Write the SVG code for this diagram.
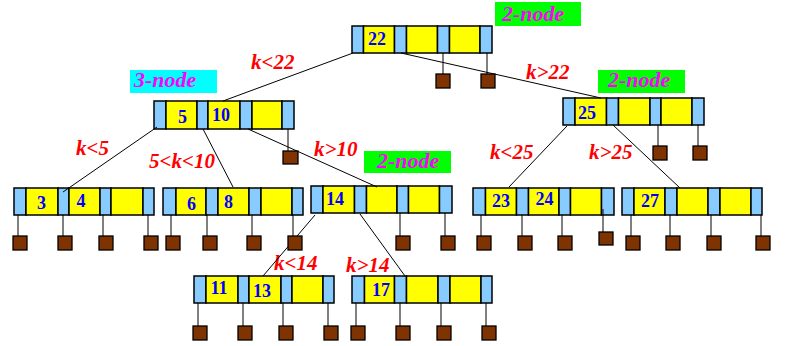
<svg xmlns="http://www.w3.org/2000/svg" width="788" height="346" viewBox="0 0 788 346">
<style>
.p{fill:#88CCFF;stroke:#000;stroke-width:1.5}
.k{fill:#FFFF00;stroke:#000;stroke-width:1.5}
.nul{fill:#7F3300;stroke:#000;stroke-width:1.3}
.key{font-family:"Liberation Serif","Times New Roman",serif;font-weight:bold;font-size:18px;fill:#0000FF}
.lab{font-family:"Liberation Serif","Times New Roman",serif;font-weight:bold;font-style:italic;font-size:21px;fill:#FF0000}
.tag{font-family:"Liberation Serif","Times New Roman",serif;font-weight:bold;font-style:italic;font-size:22px;fill:#FF00FF}
.edge{stroke:#000;stroke-width:1;fill:none}
</style>
<rect width="788" height="346" fill="#fff"/>

<g id="tags">
<rect x="495" y="2" width="86" height="24" fill="#00FF00"/><text class="tag" x="502" y="21">2-node</text>
<rect x="130" y="70" width="87" height="23" fill="#00FFFF"/><text class="tag" x="134" y="87">3-node</text>
<rect x="598" y="70" width="87" height="23" fill="#00FF00"/><text class="tag" x="608" y="87">2-node</text>
<rect x="364" y="151" width="87" height="22" fill="#00FF00"/><text class="tag" x="377" y="168">2-node</text>
</g>

<g id="labels">
<text class="lab" x="251" y="69">k&lt;22</text>
<text class="lab" x="526" y="79">k&gt;22</text>
<text class="lab" x="76" y="155">k&lt;5</text>
<text class="lab" x="149" y="168">5&lt;k&lt;10</text>
<text class="lab" x="314" y="156">k&gt;10</text>
<text class="lab" x="490" y="159">k&lt;25</text>
<text class="lab" x="589" y="159">k&gt;25</text>
<text class="lab" x="274" y="270">k&lt;14</text>
<text class="lab" x="346" y="272">k&gt;14</text>
</g>

<g id="node-22">
<rect class="p" x="352" y="26" width="11.5" height="27"/><rect class="k" x="363.5" y="26" width="31" height="27"/>
<rect class="p" x="394.5" y="26" width="12" height="27"/><rect class="k" x="406.5" y="26" width="31" height="27"/>
<rect class="p" x="437.5" y="26" width="12" height="27"/><rect class="k" x="449.5" y="26" width="30.5" height="27"/>
<rect class="p" x="480" y="26" width="12" height="27"/>
<text class="key" x="368" y="45">22</text>
</g>

<g id="node-5-10">
<rect class="p" x="154" y="101" width="12" height="28"/><rect class="k" x="166" y="101" width="31" height="28"/>
<rect class="p" x="197" y="101" width="11" height="28"/><rect class="k" x="208" y="101" width="32" height="28"/>
<rect class="p" x="240" y="101" width="12" height="28"/><rect class="k" x="252" y="101" width="30" height="28"/>
<rect class="p" x="282" y="101" width="12" height="28"/>
<text class="key" x="178" y="123">5</text><text class="key" x="212" y="121">10</text>
</g>

<g id="node-25">
<rect class="p" x="563" y="98" width="12" height="27"/><rect class="k" x="575" y="98" width="31.5" height="27"/>
<rect class="p" x="606.5" y="98" width="12" height="27"/><rect class="k" x="618.5" y="98" width="31.5" height="27"/>
<rect class="p" x="650" y="98" width="11" height="27"/><rect class="k" x="661" y="98" width="31" height="27"/>
<rect class="p" x="692" y="98" width="12" height="27"/>
<text class="key" x="578" y="119">25</text>
</g>

<g id="node-3-4">
<rect class="p" x="14" y="188" width="12" height="27"/><rect class="k" x="26" y="188" width="32" height="27"/>
<rect class="p" x="58" y="188" width="11" height="27"/><rect class="k" x="69" y="188" width="31" height="27"/>
<rect class="p" x="100" y="188" width="11" height="27"/><rect class="k" x="111" y="188" width="32" height="27"/>
<rect class="p" x="143" y="188" width="11" height="27"/>
<text class="key" x="37" y="209">3</text><text class="key" x="76.5" y="207">4</text>
</g>

<g id="node-6-8">
<rect class="p" x="163" y="188" width="13" height="27"/><rect class="k" x="176" y="188" width="30" height="27"/>
<rect class="p" x="206" y="188" width="12" height="27"/><rect class="k" x="218" y="188" width="31" height="27"/>
<rect class="p" x="249" y="188" width="12" height="27"/><rect class="k" x="261" y="188" width="31" height="27"/>
<rect class="p" x="292" y="188" width="11" height="27"/>
<text class="key" x="187" y="210">6</text><text class="key" x="224" y="208">8</text>
</g>

<g id="node-14">
<rect class="p" x="311" y="186" width="12" height="27"/><rect class="k" x="323" y="186" width="31.5" height="27"/>
<rect class="p" x="354.5" y="186" width="12" height="27"/><rect class="k" x="366.5" y="186" width="30.5" height="27"/>
<rect class="p" x="397" y="186" width="11.5" height="27"/><rect class="k" x="408.5" y="186" width="31" height="27"/>
<rect class="p" x="439.5" y="186" width="12.5" height="27"/>
<text class="key" x="326" y="205">14</text>
</g>

<g id="node-23-24">
<rect class="p" x="473" y="188" width="12.5" height="27"/><rect class="k" x="485.5" y="188" width="31" height="27"/>
<rect class="p" x="516.5" y="188" width="12" height="27"/><rect class="k" x="528.5" y="188" width="30.5" height="27"/>
<rect class="p" x="559" y="188" width="11.5" height="27"/><rect class="k" x="570.5" y="188" width="31" height="27"/>
<rect class="p" x="601.5" y="188" width="12.5" height="27"/>
<text class="key" x="492" y="207">23</text><text class="key" x="535.5" y="205">24</text>
</g>

<g id="node-27">
<rect class="p" x="622" y="188" width="12" height="27"/><rect class="k" x="634" y="188" width="31" height="27"/>
<rect class="p" x="665" y="188" width="12" height="27"/><rect class="k" x="677" y="188" width="31" height="27"/>
<rect class="p" x="708" y="188" width="12" height="27"/><rect class="k" x="720" y="188" width="31" height="27"/>
<rect class="p" x="751" y="188" width="11" height="27"/>
<text class="key" x="641" y="207">27</text>
</g>

<g id="node-11-13">
<rect class="p" x="194" y="276" width="12" height="27"/><rect class="k" x="206" y="276" width="32" height="27"/>
<rect class="p" x="238" y="276" width="11" height="27"/><rect class="k" x="249" y="276" width="32" height="27"/>
<rect class="p" x="281" y="276" width="11" height="27"/><rect class="k" x="292" y="276" width="31" height="27"/>
<rect class="p" x="323" y="276" width="11" height="27"/>
<text class="key" x="210.5" y="294">11</text><text class="key" x="253" y="297">13</text>
</g>

<g id="node-17">
<rect class="p" x="352" y="276" width="12.5" height="27"/><rect class="k" x="364.5" y="276" width="30" height="27"/>
<rect class="p" x="394.5" y="276" width="12" height="27"/><rect class="k" x="406.5" y="276" width="31.5" height="27"/>
<rect class="p" x="438" y="276" width="12" height="27"/><rect class="k" x="450" y="276" width="31" height="27"/>
<rect class="p" x="481" y="276" width="11" height="27"/>
<text class="key" x="372" y="296">17</text>
</g>

<g id="connectors">
<path class="edge" d="M353 53L223 101M401 53L601 98M157 127L63 192M203 129L233 187M248 129L377 187M567 126L509 187M613 125L680 188M315 215L263 276M360 214L405 276"/>
<path class="edge" d="M443 53V74M487 53V74M288 129V151
M18 215V236M63 215V236M103 215V236M148 215V236
M171 215V236M207 215V236M252 215V236M293 215V236
M400 213V236M445 213V236
M658 125V146M698 125V146
M481 215V236M522 215V236M562 215V236M603 209V232
M631 215V236M670 215V236M711 215V236M761 215V236
M198 303V326M243 303V326M283 303V326M328 303V326
M356 303V326M400 303V326M441 303V326M486 303V326"/>
</g>

<g id="null-pointers">
<rect class="nul" x="436" y="74" width="14" height="14"/><rect class="nul" x="481" y="74" width="14" height="14"/>
<rect class="nul" x="283" y="151" width="15" height="13"/>
<rect class="nul" x="13" y="236" width="14" height="14"/><rect class="nul" x="58" y="236" width="14" height="14"/><rect class="nul" x="99" y="236" width="14" height="14"/><rect class="nul" x="144" y="236" width="14" height="14"/>
<rect class="nul" x="166" y="236" width="14" height="14"/><rect class="nul" x="203" y="236" width="14" height="14"/><rect class="nul" x="247" y="236" width="14" height="14"/><rect class="nul" x="288" y="236" width="14" height="14"/>
<rect class="nul" x="396" y="236" width="14" height="14"/><rect class="nul" x="441" y="236" width="14" height="14"/>
<rect class="nul" x="653" y="146" width="14" height="14"/><rect class="nul" x="693" y="146" width="14" height="14"/>
<rect class="nul" x="477" y="236" width="14" height="14"/><rect class="nul" x="518" y="236" width="14" height="14"/><rect class="nul" x="558" y="236" width="14" height="14"/><rect class="nul" x="599" y="232" width="14" height="13"/>
<rect class="nul" x="626" y="236" width="14" height="14"/><rect class="nul" x="666" y="236" width="14" height="14"/><rect class="nul" x="707" y="236" width="14" height="14"/><rect class="nul" x="756" y="236" width="14" height="14"/>
<rect class="nul" x="193" y="326" width="14" height="14"/><rect class="nul" x="238" y="326" width="14" height="14"/><rect class="nul" x="279" y="326" width="14" height="14"/><rect class="nul" x="324" y="326" width="14" height="14"/>
<rect class="nul" x="351" y="326" width="14" height="14"/><rect class="nul" x="396" y="326" width="14" height="14"/><rect class="nul" x="437" y="326" width="14" height="14"/><rect class="nul" x="482" y="326" width="14" height="14"/>
</g>
</svg>
